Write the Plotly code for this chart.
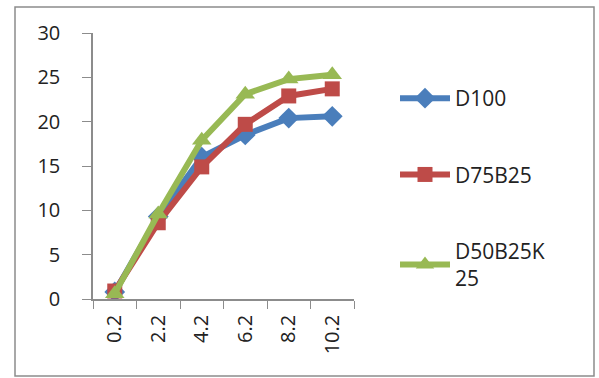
import plotly.graph_objects as go

# Data
x_labels = ["0.2", "2.2", "4.2", "6.2", "8.2", "10.2"]
d100 = [0.8, 9.3, 16.0, 18.5, 20.4, 20.6]
d75b25 = [0.9, 8.6, 14.9, 19.7, 22.9, 23.7]
d50b25k25 = [0.6, 9.6, 17.9, 23.1, 24.8, 25.3]
y_ticks = [0, 5, 10, 15, 20, 25, 30]

W, H = 599, 378
L, R, T, B = 93, 245, 33, 79
plot_w = W - L - R
plot_h = H - T - B

series = [
    ("D100", d100, "#4a7ebb", "diamond", 16),
    ("D75B25", d75b25, "#be4b48", "square", 15),
    ("D50B25K<br>25", d50b25k25, "#98b954", "triangle-up", 17),
]

fig = go.Figure()
for i, (name, vals, color, sym, size) in enumerate(series):
    fig.add_trace(go.Scatter(
        x=x_labels, y=vals, name=name, mode="lines+markers",
        line=dict(color=color, width=6),
        marker=dict(symbol=sym, size=size, color=color),
        legendgroup=f"g{i}",
    ))

def px_x(p):
    return (p - L) / plot_w

def px_y(p):
    return (H - B - p) / plot_h

fig.update_layout(
    width=W, height=H,
    margin=dict(l=L, r=R, t=T, b=B),
    paper_bgcolor="white", plot_bgcolor="white",
    font=dict(family="Open Sans, Liberation Sans, sans-serif", size=20, color="#222222"),
    showlegend=True,
    legend=dict(
        x=px_x(395), y=px_y(78), xanchor="left", yanchor="top",
        tracegroupgap=46, itemwidth=50,
        font=dict(size=21), bgcolor="rgba(0,0,0,0)",
    ),
    shapes=[dict(
        type="rect", xref="paper", yref="paper",
        x0=px_x(15), x1=px_x(594), y0=px_y(376), y1=px_y(7),
        line=dict(color="#8c8c8c", width=1.5), fillcolor="rgba(0,0,0,0)",
        layer="below",
    )],
)

fig.update_xaxes(
    type="category", range=[-0.5, 5.5],
    showline=True, linecolor="#8c8c8c", linewidth=1.5,
    showgrid=False, zeroline=False,
    ticks="outside", tickson="boundaries", ticklen=8, tickcolor="#8c8c8c",
    tickangle=-90, ticklabelstandoff=6,
)
fig.update_yaxes(
    range=[0, 30], tickvals=y_ticks,
    showline=True, linecolor="#8c8c8c", linewidth=1.5,
    showgrid=False, zeroline=False,
    ticks="outside", ticklen=9, tickcolor="#8c8c8c",
    ticklabelstandoff=18,
)

fig.write_html("out.html")
